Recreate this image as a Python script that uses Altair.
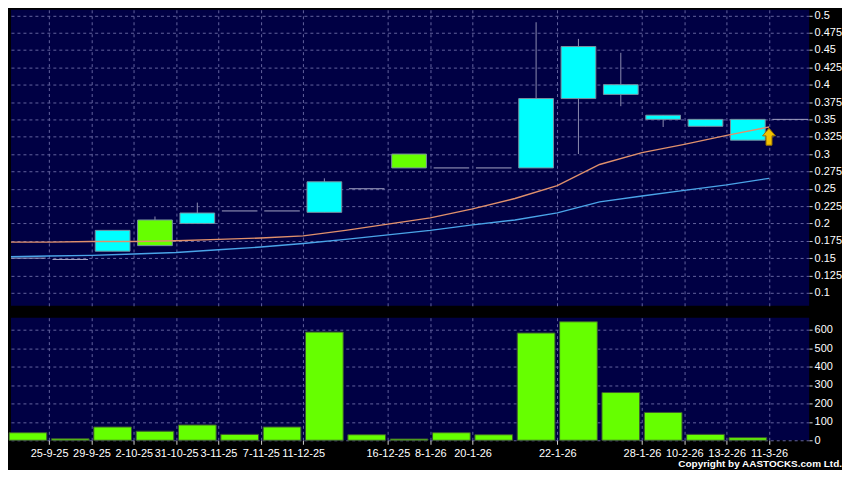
import altair as alt
import pandas as pd

# ---------------- data ----------------
tick_slots = [1, 2, 3, 4, 5, 6, 7, 9, 10, 11, 13, 15, 16, 17, 18]
tick_labels = ["25-9-25", "29-9-25", "2-10-25", "31-10-25", "3-11-25", "7-11-25",
               "11-12-25", "16-12-25", "8-1-26", "20-1-26", "22-1-26", "28-1-26",
               "10-2-26", "13-2-26", "11-3-26"]

opens = [0.150, 0.148, 0.160, 0.205, 0.200, 0.218, 0.218, 0.216, 0.250, 0.300,
         0.280, 0.280, 0.280, 0.380, 0.386, 0.350, 0.340, 0.320, 0.350]
closes = [0.150, 0.148, 0.190, 0.168, 0.215, 0.218, 0.218, 0.260, 0.250, 0.280,
          0.280, 0.280, 0.380, 0.455, 0.400, 0.356, 0.350, 0.350, 0.350]
highs = [0.150, 0.148, 0.190, 0.210, 0.230, 0.218, 0.218, 0.265, 0.250, 0.300,
         0.280, 0.280, 0.490, 0.466, 0.446, 0.356, 0.350, 0.350, 0.350]
lows = [0.150, 0.148, 0.160, 0.168, 0.200, 0.218, 0.218, 0.216, 0.250, 0.280,
        0.280, 0.280, 0.280, 0.300, 0.369, 0.339, 0.340, 0.320, 0.350]
volumes = [41, 8, 72, 49, 83, 32, 72, 587, 30, 7, 41, 30, 582, 643, 259, 151, 32, 14, 0]

ma_short = [0.173, 0.173, 0.174, 0.174, 0.175, 0.177, 0.179, 0.182, 0.190, 0.199,
            0.208, 0.221, 0.236, 0.2545, 0.285, 0.302, 0.314, 0.327, 0.339]
ma_long = [0.152, 0.153, 0.154, 0.156, 0.158, 0.162, 0.166, 0.171, 0.177, 0.1835,
           0.190, 0.198, 0.205, 0.2153, 0.231, 0.2395, 0.2476, 0.2556, 0.265]

price_ticks = [0.1, 0.125, 0.15, 0.175, 0.2, 0.225, 0.25, 0.275, 0.3, 0.325,
               0.35, 0.375, 0.4, 0.425, 0.45, 0.475, 0.5]
volume_ticks = [0, 100, 200, 300, 400, 500, 600]

arrow_slot = [18]
arrow_price = [0.325]

copyright_text = "Copyright by AASTOCKS.com Ltd."

# ---------------- tables ----------------
n = len(opens)
slots = list(range(n))
kinds = ["up" if c > o else ("down" if c < o else "flat") for o, c in zip(opens, closes)]
candles = pd.DataFrame({
    "slot": slots, "open": opens, "close": closes, "high": highs, "low": lows,
    "kind": kinds, "volume": volumes,
})
candles["mid"] = candles["slot"] + 0.5
candles["b0"] = candles["slot"] + 0.09
candles["b1"] = candles["slot"] + 0.91
candles["d0"] = candles["slot"] + 0.08
candles["d1"] = candles["slot"] + 0.92
candles["v0"] = candles["slot"] + 0.055
candles["v1"] = candles["slot"] + 0.945
candles["base"] = 0

bodies = candles[candles["kind"] != "flat"]
dojis = candles[candles["kind"] == "flat"]
vols = candles[candles["volume"] > 0]

ma = pd.DataFrame({
    "slot": slots * 2,
    "value": ma_short + ma_long,
    "series": ["short"] * n + ["long"] * n,
})
arrow = pd.DataFrame({"slot": arrow_slot, "price": arrow_price})

label_arr = [""] * (n + 1)
for s, l in zip(tick_slots, tick_labels):
    label_arr[s] = l
label_expr = "[" + ",".join("'" + t + "'" for t in label_arr) + "][datum.value]"

# ---------------- scales / axes ----------------
W = 801
H_PRICE = 297
H_VOL = 123

xs = alt.Scale(domain=[0.1, 18.947], nice=False, zero=False)
ys_price = alt.Scale(domain=[0.08133, 0.5079], nice=False, zero=False)
ys_vol = alt.Scale(domain=[0, 665], nice=False)

color_scale = alt.Scale(domain=["up", "down", "short", "long"],
                        range=["#00ffff", "#66ff00", "#e0906c", "#4aa4e8"])

x_axis_price = alt.Axis(values=tick_slots, grid=True, labels=False, ticks=False,
                        domain=False, title=None)
x_axis_vol = alt.Axis(values=tick_slots, grid=True, labelExpr=label_expr, ticks=True,
                      tickSize=4, labelPadding=3, domain=False, title=None,
                      labelOverlap=False)
y_axis_price = alt.Axis(orient="right", values=price_ticks, format=".3~f", grid=True,
                        domain=False, title=None, tickSize=3, labelPadding=2,
                        labelOverlap=False)
y_axis_vol = alt.Axis(orient="right", values=volume_ticks, format="d", grid=True,
                      domain=False, title=None, tickSize=3, labelPadding=2,
                      labelOverlap=False)


def PX(field):
    return alt.X(field, type="quantitative", scale=xs, axis=x_axis_price)


def PY(field):
    return alt.Y(field, type="quantitative", scale=ys_price, axis=y_axis_price)


# ---------------- price panel ----------------
wicks = alt.Chart(bodies).mark_rule(color="#8c8cb0", strokeWidth=1, clip=True).encode(
    x=PX("mid"), y=PY("low"), y2="high:Q",
)
body = alt.Chart(bodies).mark_rect(stroke="#7890a0", strokeWidth=1, clip=True).encode(
    x=PX("b0"), x2="b1:Q", y=PY("open"), y2="close:Q",
    color=alt.Color("kind:N", scale=color_scale, legend=None),
)
doji = alt.Chart(dojis).mark_rule(color="#a4a4c4", strokeWidth=1, clip=True).encode(
    x=PX("d0"), x2="d1:Q", y=PY("close"),
)
lines = alt.Chart(ma).mark_line(strokeWidth=1.4, clip=True).encode(
    x=PX("slot"), y=PY("value"),
    color=alt.Color("series:N", scale=color_scale, legend=None),
    detail="series:N",
)
arrow_path = "M0,-1L0.76,-0.1L0.35,-0.1L0.35,1L-0.35,1L-0.35,-0.1L-0.76,-0.1Z"
arrow_mark = alt.Chart(arrow).mark_point(
    shape=arrow_path, size=289, filled=True, fill="#f2c200", stroke="#9a7400",
    strokeWidth=1, opacity=1,
).encode(
    x=PX("slot"), y=PY("price"),
)

price = alt.layer(wicks, body, doji, lines, arrow_mark).properties(width=W, height=H_PRICE)

# ---------------- volume panel ----------------
bars = alt.Chart(vols).mark_rect(fill="#66ff00", stroke="#3c5a30", strokeWidth=1).encode(
    x=alt.X("v0:Q", scale=xs, axis=x_axis_vol),
    x2="v1:Q",
    y=alt.Y("volume:Q", scale=ys_vol, axis=y_axis_vol),
    y2="base:Q",
)
copyright = alt.Chart(pd.DataFrame({"t": [copyright_text]})).mark_text(
    align="right", baseline="bottom", font="Liberation Sans", fontWeight="bold",
    fontSize=10, color="#ffffff",
).encode(
    x=alt.value(834),
    y=alt.value(152),
    text="t:N",
)
volume = alt.layer(bars, copyright).properties(width=W, height=H_VOL)

chart = alt.vconcat(price, volume, spacing=12).properties(
    background="#000000", padding=0
).configure_view(
    fill="#000044", strokeWidth=0
).configure_axis(
    gridColor="#62629e", gridDash=[3, 3], gridOpacity=1, gridWidth=1,
    labelColor="#ffffff", labelFont="Liberation Sans", labelFontSize=11,
    tickColor="#d0d0d0",
)

chart.save("out.html", embed_options={"renderer": "svg", "actions": False})
